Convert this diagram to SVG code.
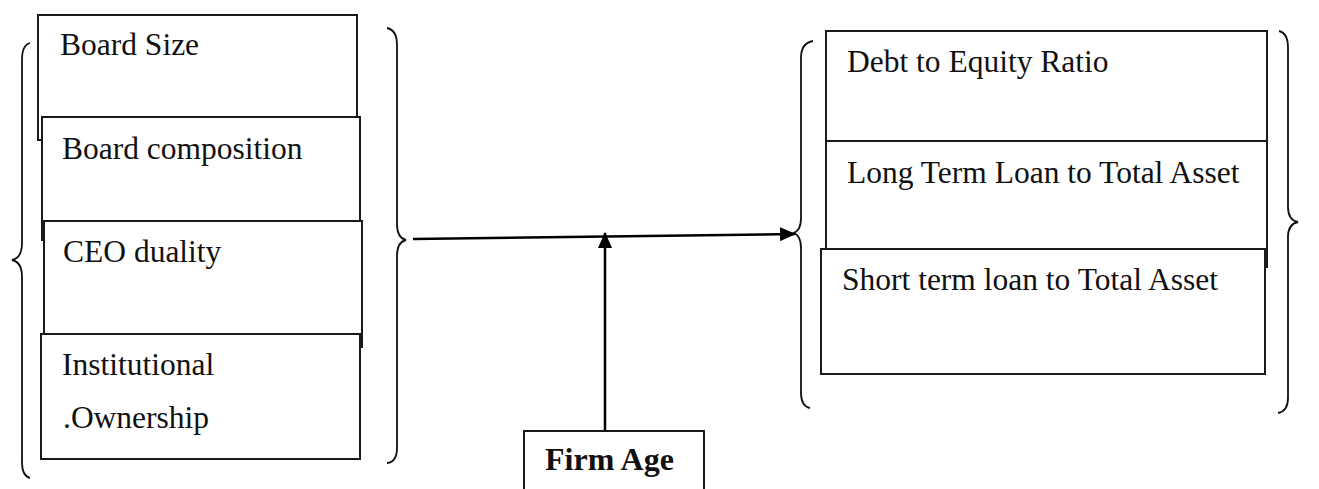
<svg xmlns="http://www.w3.org/2000/svg" width="1319" height="489" viewBox="0 0 1319 489">
<style>
.box{fill:#fff;stroke:#1a1a1a;stroke-width:2}
.brace{fill:none;stroke:#111;stroke-width:1.8}
.t{font-family:"Liberation Serif","Times New Roman",serif;font-size:31.5px;fill:#111}
.tb{font-family:"Liberation Serif","Times New Roman",serif;font-size:32px;font-weight:bold;fill:#111}
.conn{fill:none;stroke:#000;stroke-width:2.5}
</style>
<defs>
<marker id="ah" markerUnits="userSpaceOnUse" markerWidth="16" markerHeight="14" refX="15" refY="7" orient="auto">
<path d="M0,0 L16,7 L0,14 Z" fill="#000"/>
</marker>
</defs>
<g id="braces">
<path class="brace" d="M30,43 Q22,45 22,60 L22,243 Q22,258 12,260 Q22,262 22,277 L22,462 Q22,476 30,478"/>
<path class="brace" d="M387,28 Q397,30 397,45 L397,224 Q397,238 406,240 Q397,242 397,256 L397,448 Q397,462 387,463"/>
<path class="brace" d="M813,41 Q801,43 801,58 L801,218 Q801,231 793,233 Q801,235 801,248 L801,393 Q801,406 810,408"/>
<path class="brace" d="M1279,31 Q1288,33 1288,48 L1288,207 Q1288,220 1298,222 Q1288,224 1288,237 L1288,398 Q1288,411 1278,413"/>
</g>
<g id="board-size"><rect class="box" x="38" y="15" width="319" height="125"/><text class="t" x="60" y="55">Board Size</text></g>
<g id="board-composition"><rect class="box" x="42" y="117" width="318" height="123"/><text class="t" x="62" y="159">Board composition</text></g>
<g id="ceo-duality"><rect class="box" x="44" y="221" width="318" height="126"/><text class="t" x="63" y="262">CEO duality</text></g>
<g id="institutional-ownership"><rect class="box" x="41" y="334" width="319" height="125"/><text class="t" x="62" y="375">Institutional</text><text class="t" x="63" y="428">.Ownership</text></g>
<g id="debt-equity"><rect class="box" x="826" y="31" width="441" height="110"/><text class="t" x="847" y="72">Debt to Equity Ratio</text></g>
<g id="long-term"><rect class="box" x="826" y="141" width="441" height="126"/><text class="t" x="847" y="183">Long Term Loan to Total Asset</text></g>
<g id="short-term"><rect class="box" x="821" y="249" width="444" height="125"/><text class="t" x="842" y="290">Short term loan to Total Asset</text></g>
<g id="firm-age"><rect class="box" x="524" y="431" width="180" height="70"/><text class="tb" x="545" y="470">Firm Age</text></g>
<g id="connectors">
<line class="conn" x1="413" y1="239" x2="795" y2="234" marker-end="url(#ah)"/>
<line class="conn" x1="605" y1="431" x2="605" y2="233" marker-end="url(#ah)"/>
</g>
</svg>
